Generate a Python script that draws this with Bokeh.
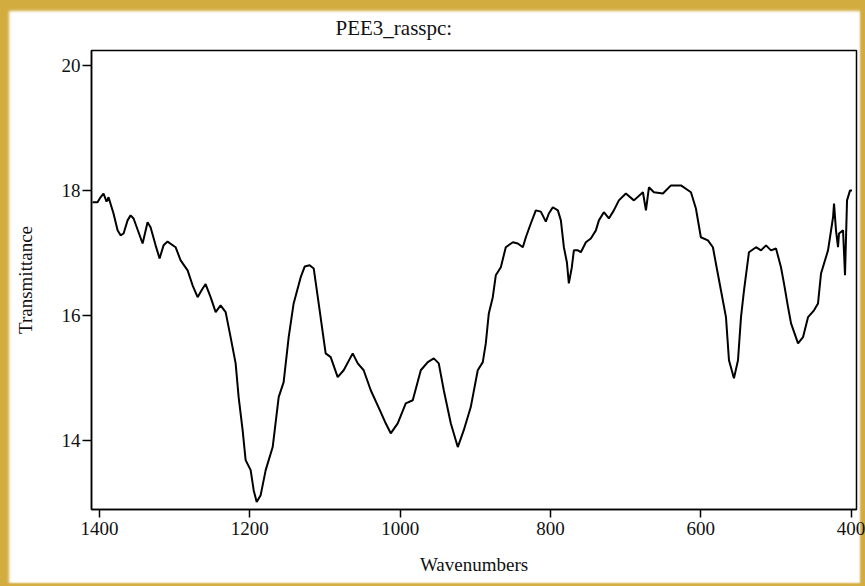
from bokeh.plotting import figure
from bokeh.models import Range1d, FixedTicker
from bokeh.embed import file_html
from bokeh.resources import INLINE

# IR spectrum of PEE3 (transmittance vs wavenumber)
wavenumbers = [
    1409.3, 1402.7, 1398.7, 1394.7, 1390.7, 1388.0, 1381.4, 1376.0, 1372.0, 1368.0,
    1362.7, 1358.7, 1354.7, 1348.1, 1342.7, 1336.1, 1332.1, 1325.4, 1320.1, 1314.8,
    1309.5, 1298.8, 1292.1, 1282.8, 1276.2, 1269.5, 1264.2, 1258.9, 1252.2, 1245.5,
    1238.9, 1232.2, 1225.6, 1218.9, 1214.9, 1209.6, 1205.6, 1198.9, 1194.9, 1190.9,
    1185.6, 1178.9, 1169.6, 1161.6, 1155.0, 1148.3, 1141.7, 1132.3, 1127.0, 1120.4,
    1115.0, 1108.4, 1099.1, 1092.4, 1083.1, 1075.1, 1063.1, 1056.4, 1048.5, 1039.1,
    1025.8, 1019.2, 1012.5, 1003.2, 992.5, 983.2, 972.5, 963.2, 955.2, 948.6,
    941.9, 932.6, 923.3, 915.3, 906.0, 896.7, 890.0, 886.0, 882.0, 876.7,
    872.7, 866.0, 859.4, 850.0, 843.4, 836.7, 832.7, 826.1, 819.4, 812.8,
    806.1, 802.1, 796.8, 790.1, 786.1, 782.1, 778.1, 775.5, 771.5, 768.8,
    763.5, 759.5, 752.8, 746.2, 739.5, 735.5, 728.9, 722.2, 715.6, 708.9,
    699.6, 688.9, 676.9, 672.9, 668.9, 662.3, 650.3, 639.6, 626.3, 613.0,
    606.4, 599.8, 590.4, 583.8, 579.8, 573.1, 566.4, 562.4, 555.8, 550.4,
    546.4, 542.4, 535.8, 526.4, 519.8, 513.1, 506.5, 499.8, 493.2, 489.2,
    483.8, 479.8, 470.5, 463.9, 457.2, 449.2, 443.9, 439.9, 430.6, 423.9,
    422.6, 420.0, 417.3, 416.0, 410.6, 408.0, 405.3, 401.3, 398.6,
]
transmittance = [
    17.81, 17.81, 17.89, 17.95, 17.82, 17.89, 17.63, 17.36, 17.28, 17.31,
    17.52, 17.60, 17.55, 17.33, 17.15, 17.49, 17.41, 17.12, 16.91, 17.12,
    17.18, 17.09, 16.88, 16.72, 16.48, 16.29, 16.40, 16.50, 16.29, 16.05,
    16.16, 16.05, 15.65, 15.23, 14.69, 14.16, 13.68, 13.52, 13.20, 13.01,
    13.12, 13.52, 13.89, 14.69, 14.93, 15.65, 16.19, 16.61, 16.78, 16.80,
    16.75, 16.19, 15.39, 15.33, 15.01, 15.12, 15.39, 15.23, 15.12, 14.80,
    14.45, 14.27, 14.11, 14.27, 14.59, 14.64, 15.12, 15.25, 15.31, 15.23,
    14.80, 14.27, 13.89, 14.16, 14.53, 15.12, 15.25, 15.55, 16.03, 16.29,
    16.64, 16.77, 17.09, 17.17, 17.15, 17.09, 17.25, 17.47, 17.68, 17.66,
    17.50, 17.63, 17.73, 17.68, 17.52, 17.09, 16.85, 16.51, 16.77, 17.04,
    17.04, 17.01, 17.17, 17.23, 17.36, 17.52, 17.65, 17.55, 17.68, 17.84,
    17.95, 17.84, 17.97, 17.68, 18.05, 17.97, 17.95, 18.08, 18.08, 17.97,
    17.71, 17.25, 17.20, 17.09, 16.83, 16.40, 15.97, 15.28, 14.99, 15.28,
    15.97, 16.40, 17.01, 17.09, 17.04, 17.12, 17.04, 17.07, 16.77, 16.51,
    16.13, 15.87, 15.55, 15.65, 15.97, 16.08, 16.19, 16.67, 17.04, 17.57,
    17.79, 17.36, 17.09, 17.31, 17.36, 16.64, 17.84, 18.00, 18.00,
]
x_ticks = [1400, 1200, 1000, 800, 600, 400]
y_ticks = [14, 16, 18, 20]

SERIF = "Liberation Serif"
GOLD = "#d3ac40"

p = figure(
    width=865, height=586,
    x_range=Range1d(1410.7, 392.7),
    y_range=Range1d(12.89, 20.24),
    output_backend="svg", toolbar_location=None,
    min_border_left=91, min_border_right=9,
    min_border_top=50, min_border_bottom=77,
    title="PEE3_rasspc:",
    # golden picture frame painted behind a transparent canvas border
    styles={
        "background-color": "white",
        "box-shadow": (
            f"inset 9px 11px 3px 0 {GOLD}, "
            f"inset -5px -3px 2px 0 {GOLD}"
        ),
    },
)
p.background_fill_color = "white"
p.border_fill_color = None
p.outline_line_color = "black"
p.outline_line_width = 1.5
p.grid.visible = False

p.title.text_font = SERIF
p.title.text_font_size = "21px"
p.title.text_font_style = "normal"
p.title.text_color = "#111111"
p.title.align = "left"
p.title.offset = 244
p.title.standoff = 22

for ax in (p.xaxis[0], p.yaxis[0]):
    ax.axis_line_width = 1.5
    ax.major_tick_line_width = 1.5
    ax.major_tick_in = 0
    ax.minor_tick_line_color = None
    ax.major_label_text_font = SERIF
    ax.major_label_text_font_size = "19px"
    ax.major_label_text_color = "#111111"
    ax.axis_label_text_font = SERIF
    ax.axis_label_text_font_size = "19px"
    ax.axis_label_text_font_style = "normal"
    ax.axis_label_text_color = "#111111"

p.xaxis.ticker = FixedTicker(ticks=x_ticks)
p.xaxis.major_tick_out = 8
p.xaxis.major_label_standoff = 4
p.xaxis.axis_label = "Wavenumbers"
p.xaxis.axis_label_standoff = 16

p.yaxis.ticker = FixedTicker(ticks=y_ticks)
p.yaxis.major_tick_out = 9
p.yaxis.major_label_standoff = 2
p.yaxis.axis_label = "Transmittance"
p.yaxis.axis_label_standoff = 23

p.line(wavenumbers, transmittance, line_color="black", line_width=2)

open("out.html", "w").write(file_html(p, INLINE))
